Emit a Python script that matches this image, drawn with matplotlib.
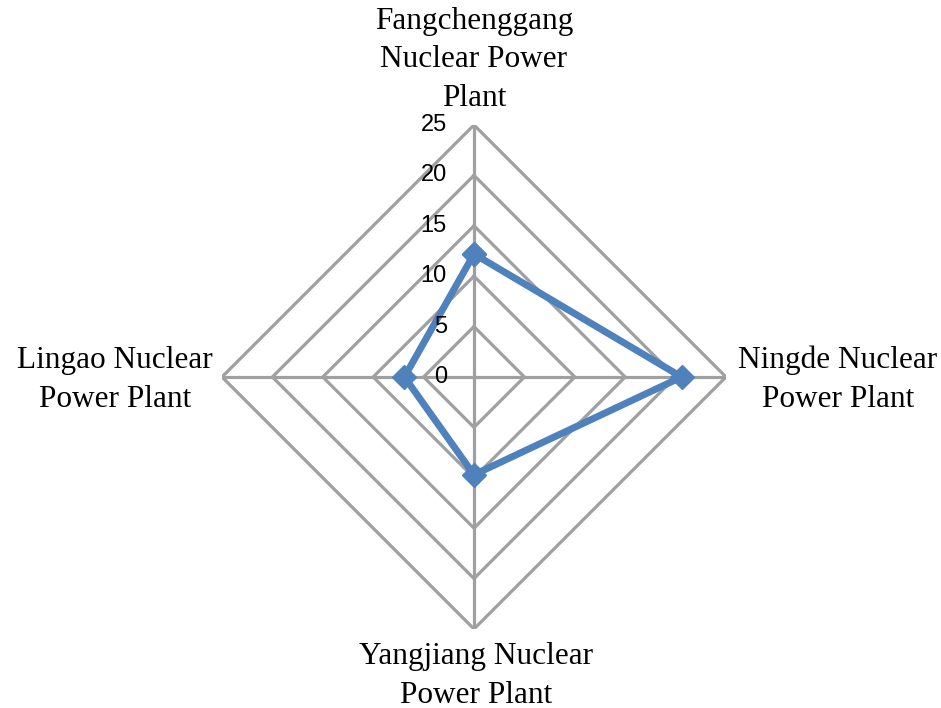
import numpy as np
import matplotlib
matplotlib.use('Agg')
import matplotlib.pyplot as plt

# data
categories = ['Fangchenggang\nNuclear Power\nPlant', 'Ningde Nuclear\nPower Plant',
              'Yangjiang Nuclear\nPower Plant', 'Lingao Nuclear\nPower Plant']
values = [12.2, 20.6, 9.7, 6.9]
ring_levels = [0, 5, 10, 15, 20, 25]

fig = plt.figure(figsize=(9.41, 7.08), dpi=100)
ax = fig.add_axes([0.2359, 0.1116, 0.5356, 0.7119], projection='polar')
ax.set_theta_offset(np.pi / 2)
ax.set_theta_direction(-1)
ax.set_ylim(0, 25)
ax.grid(False)
ax.spines['polar'].set_visible(False)
ax.set_xticks([])
ax.set_yticks([])

angles = np.arange(len(categories)) * 2 * np.pi / len(categories)
closed = np.append(angles, angles[0])

grid_col = '#a0a0a0'
# diamond rings
for lv in ring_levels[1:]:
    ax.plot(closed, [lv] * len(closed), color=grid_col, lw=2.3, zorder=1)
# spokes
for a in angles:
    ax.plot([a, a], [0, 25], color=grid_col, lw=2.3, zorder=1)

# series
ax.plot(closed, np.append(values, values[0]), color='#4f81bd', lw=5,
        marker='D', markersize=12, zorder=3, clip_on=False)

# radial tick labels
for lv in ring_levels:
    ax.annotate(str(lv), xy=(0, lv), xytext=(-27, 0), textcoords='offset pixels',
                ha='right', va='center', fontsize=17, family='Liberation Sans')

# category labels
offsets = [(0, 65), (112, -3), (2, -47), (-107, -3)]
for a, lab, off in zip(angles, categories, offsets):
    ax.annotate(lab, xy=(a, 25), xytext=off, textcoords='offset pixels',
                ha='center', va='center', multialignment='center',
                fontsize=22.5, family='Liberation Serif', linespacing=1.43)

fig.savefig('out.png', dpi=100)
